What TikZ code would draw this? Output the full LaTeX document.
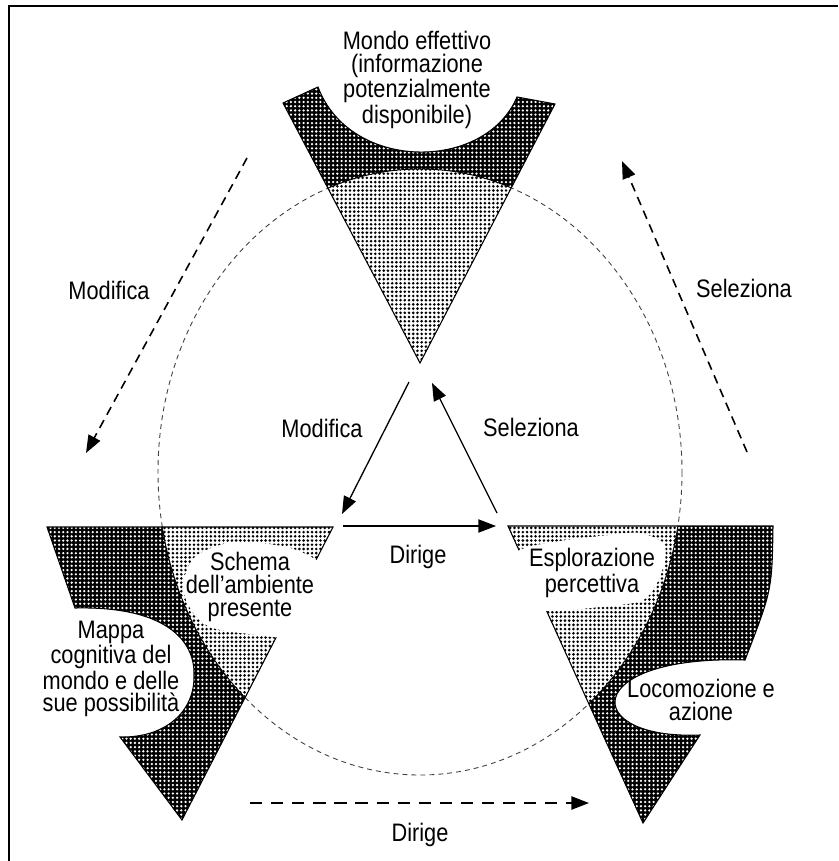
\documentclass[tikz,border=0pt]{standalone}
\usepackage{fontspec}
\setmainfont{Liberation Sans}[FakeStretch=0.86]
\usetikzlibrary{arrows.meta,patterns}

\pgfdeclarepatternformonly{darkdots}{\pgfqpoint{-1pt}{-1pt}}{\pgfqpoint{1pt}{1pt}}{\pgfqpoint{2.4pt}{2.4pt}}{\pgfpathcircle{\pgfpointorigin}{0.72pt}\pgfusepath{fill}}
\pgfdeclarepatternformonly{lightdots}{\pgfqpoint{-1pt}{-1pt}}{\pgfqpoint{1pt}{1pt}}{\pgfqpoint{2.4pt}{2.4pt}}{\pgfpathcircle{\pgfpointorigin}{0.82pt}\pgfusepath{fill}}

\begin{document}
\begin{tikzpicture}[x=0.02cm,y=-0.02cm,
  label_text/.style={align=center,inner sep=0pt,font=\fontsize{14.4}{13}\selectfont},
  dark_band/.style={fill=black,postaction={pattern=darkdots,pattern color=white}},
  light_band/.style={fill=white,postaction={pattern=lightdots,pattern color=black}},
  shape_edge/.style={draw=black,line width=0.6pt},
  solid_link/.style={-{Triangle[length=10pt,width=7.5pt]},line width=0.75pt},
  dashed_link/.style={-{Triangle[length=10pt,width=7.5pt]},line width=0.9pt,dash pattern=on 5pt off 3.5pt},
  long_dashed_link/.style={-{Triangle[length=10pt,width=7.5pt]},line width=0.9pt,dash pattern=on 7pt off 5pt}]

\useasboundingbox (0,0) rectangle (838,861);
\fill[white] (0,0) rectangle (838,861);
\draw[line width=1.7pt] (9,861) -- (9,6) -- (838,6);

\draw[black!75,line width=0.5pt,dash pattern=on 2.8pt off 2.3pt] (420,472) ellipse [x radius=262, y radius=303];

\begin{scope}
  \clip (283,103) -- (318,87) .. controls (350,172) and (485,172) .. (517,97) -- (555,104) -- (420,363) -- cycle;
  \fill[dark_band] (270,60) rectangle (570,370);
  \fill[light_band] (420,472) ellipse [x radius=262, y radius=303];
  \draw[line width=0.5pt] (420,472) ellipse [x radius=262, y radius=303];
\end{scope}
\draw[shape_edge] (283,103) -- (318,87) .. controls (350,172) and (485,172) .. (517,97) -- (555,104) -- (420,363) -- cycle;

\begin{scope}
  \clip (47,527) -- (333,527) -- (182,820) -- (120,737) .. controls (165,738) and (195,712) .. (194,675) .. controls (195,640) and (165,606) .. (75,608) -- cycle;
  \fill[dark_band] (40,520) rectangle (340,830);
  \fill[light_band] (420,472) ellipse [x radius=262, y radius=303];
  \draw[line width=0.5pt] (420,472) ellipse [x radius=262, y radius=303];
\end{scope}
\draw[shape_edge] (47,527) -- (333,527) -- (182,820) -- (120,737) .. controls (165,738) and (195,712) .. (194,675) .. controls (195,640) and (165,606) .. (75,608) -- cycle;
\fill[white] plot[smooth cycle] coordinates {(183,584) (196,556) (235,542) (290,548) (325,567) (337,600) (300,636) (250,634) (210,627) (190,608)};

\begin{scope}
  \clip (508,526) -- (773,526) .. controls (772,590) .. (745,660) .. controls (580,655) and (580,740) .. (700,735) -- (643,823) -- cycle;
  \fill[dark_band] (500,520) rectangle (780,830);
  \fill[light_band] (420,472) ellipse [x radius=262, y radius=303];
  \draw[line width=0.5pt] (420,472) ellipse [x radius=262, y radius=303];
\end{scope}
\draw[shape_edge] (508,526) -- (773,526) .. controls (772,590) .. (745,660) .. controls (580,655) and (580,740) .. (700,735) -- (643,823) -- cycle;
\fill[white] plot[smooth cycle] coordinates {(505,565) (522,549) (560,541) (610,535) (640,533) (663,543) (665,560) (656,585) (641,601) (600,607) (550,611) (515,605)};

\node[label_text] (world) at (417,80) {Mondo effettivo\\(informazione\\potenzialmente\\disponibile)};
\node[label_text] (schema) at (250,587) {Schema\\dell'ambiente\\presente};
\node[label_text] (mappa) at (111,669) {Mappa\\cognitiva del\\mondo e delle\\sue possibilità};
\node[label_text] (esplor) at (592,573) {Esplorazione\\percettiva};
\node[label_text] (locom) at (701,700) {Locomozione e\\azione};
\node[label_text] (mod_out) at (109,290) {Modifica};
\node[label_text] (sel_out) at (744,288) {Seleziona};
\node[label_text] (mod_in) at (322,428) {Modifica};
\node[label_text] (sel_in) at (531,427) {Seleziona};
\node[label_text] (dir_in) at (418,557) {Dirige};
\node[label_text] (dir_out) at (420,835) {Dirige};

\coordinate (mod_in_a) at (409,382);
\coordinate (mod_in_b) at (342,514);
\coordinate (sel_in_a) at (497,513);
\coordinate (sel_in_b) at (432,383);
\coordinate (dir_in_a) at (343,526);
\coordinate (dir_in_b) at (496,526);
\coordinate (mod_out_a) at (247,158);
\coordinate (mod_out_b) at (86,453);
\coordinate (sel_out_a) at (747,452);
\coordinate (sel_out_b) at (622,161);
\coordinate (dir_out_a) at (250,803);
\coordinate (dir_out_b) at (589,803);

\draw[solid_link] (mod_in_a) -- (mod_in_b);
\draw[solid_link] (sel_in_a) -- (sel_in_b);
\draw[solid_link] (dir_in_a) -- (dir_in_b);
\draw[dashed_link] (mod_out_a) -- (mod_out_b);
\draw[dashed_link] (sel_out_a) -- (sel_out_b);
\draw[long_dashed_link] (dir_out_a) -- (dir_out_b);
\end{tikzpicture}
\end{document}
